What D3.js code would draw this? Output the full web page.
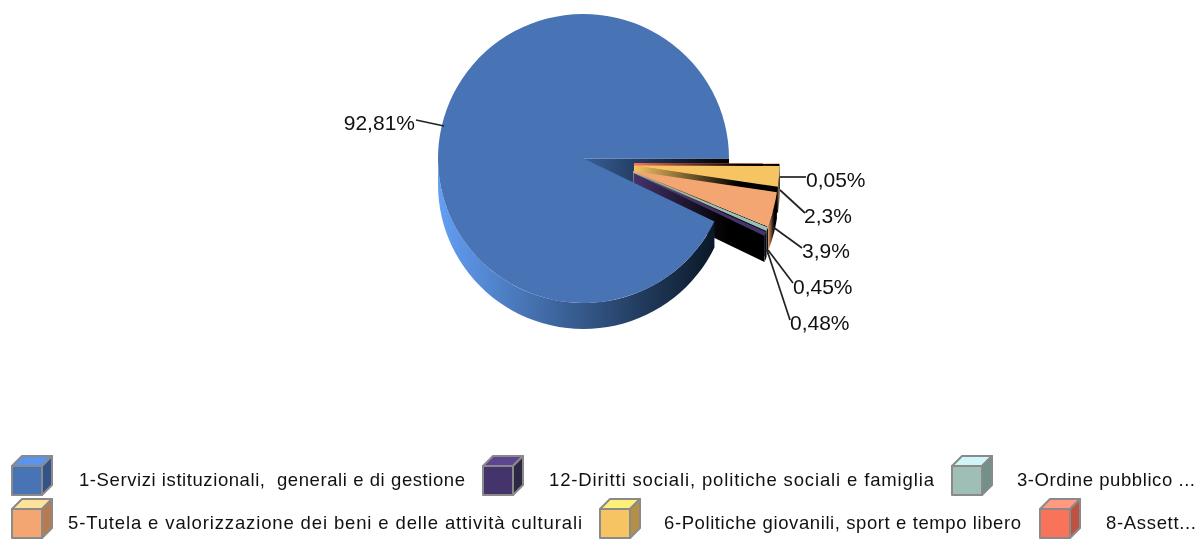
<!DOCTYPE html>
<html><head><meta charset="utf-8">
<script src="https://cdn.jsdelivr.net/npm/d3@7/dist/d3.min.js"></script>
<style>html,body{margin:0;padding:0;background:#fff}svg{display:block;filter:blur(0.7px)}</style>
</head><body><div id="c"></div>
<script>
// DATA (legend order; the pie runs counter-clockwise from 3 o'clock)
const categories = ["1-Servizi istituzionali,  generali e di gestione","12-Diritti sociali, politiche sociali e famiglia","3-Ordine pubblico ...","5-Tutela e valorizzazione dei beni e delle attività culturali","6-Politiche giovanili, sport e tempo libero","8-Assett..."];
const values = [92.81,0.48,0.45,3.9,2.3,0.05];
const valueLabels = ["92,81%","0,48%","0,45%","3,9%","2,3%","0,05%"];
// STYLE
const colors = ["#4874b5","#45336b","#9fbfb6","#f4a672","#f6c463","#f9735b"];
const topColors = ["#5b94ec","#5d4691","#d0f5f6","#fde29a","#fdf078","#ff9a80"];
const sideColors = ["#345388","#2f2746","#738f89","#b87b50","#b38f48","#bd5441"];
// LAYOUT
const W=1204,H=539,cx=583.5,cy=158.5,rx=145.5,ry=144.5,depth=26;
const explode=[[0,0],[50,14.5],[50,13.5],[49.5,12.5],[50.5,7],[50.5,4.5]];
const labelPos=[[415,122,"end"],[790,322,"start"],[793,286,"start"],[802,250,"start"],[804,215,"start"],[806,179,"start"]];
const leaderStart=[[444,126],[767,250],[768,250],[773,227],[780,190],[780,177]];
const leaderEnd=[[416,120],[790,320],[793,283],[802,248],[805,213],[806,177]];
const legendRows=[[0,1,2],[3,4,5]];
const legendY=[456,499];
const swatchX=[[12,483,952],[12,600,1040]];
const textX=[[79,549,1017],[68,664,1106]];
const textW=[[386,385,178],[514,357,90]];

const svg=d3.select("#c").append("svg").attr("width",W).attr("height",H).attr("viewBox",[0,0,W,H]);
const defs=svg.append("defs");
colors.forEach((c,i)=>{
  const g=defs.append("linearGradient").attr("id","w"+i);
  g.append("stop").attr("offset",0).attr("stop-color",c);
  g.append("stop").attr("offset",0.72).attr("stop-color","#000");
  g.append("stop").attr("offset",1).attr("stop-color","#000");
});
const gw=defs.append("linearGradient").attr("id","blueWall");
gw.append("stop").attr("offset",0).attr("stop-color","#639ff5");
gw.append("stop").attr("offset",1).attr("stop-color","#0a1828");
const gc=defs.append("linearGradient").attr("id","blueCut");
gc.append("stop").attr("offset",0).attr("stop-color","#38609a");
gc.append("stop").attr("offset",1).attr("stop-color","#000");

const slices=d3.pie().sort(null).startAngle(Math.PI/2).endAngle(Math.PI/2-2*Math.PI)(values);
const arcGen=d3.arc().innerRadius(0).outerRadius(1);
const line=d3.line();
const pt=(a,ox,oy,dz=0)=>[cx+ox+rx*Math.sin(a),cy+oy+dz-ry*Math.cos(a)];
function arcWall(a0,a1,ox,oy){
  const n=48,ts=d3.range(n+1).map(k=>a0+(a1-a0)*k/n);
  return line(ts.map(t=>pt(t,ox,oy)).concat(ts.slice().reverse().map(t=>pt(t,ox,oy,depth))))+"Z";
}
function drawTop(i){
  const s=slices[i],[ox,oy]=explode[i];
  svg.append("path").attr("d",arcGen({startAngle:s.startAngle,endAngle:s.endAngle}))
    .attr("transform",`translate(${cx+ox},${cy+oy}) scale(${rx},${ry})`).attr("fill",colors[i]);
}
// cut face of the main slice seen through the gap
const p0=slices[0];
svg.append("path").attr("d",line([[cx,cy],pt(p0.startAngle,0,0),pt(p0.startAngle,0,0,depth),[cx,cy+depth]])+"Z").attr("fill","url(#blueCut)");
// exploded slices' walls, back to front
const order=[5,4,3,2,1];
order.forEach(i=>{
  const s=slices[i],[ox,oy]=explode[i];
  const o=pt(s.startAngle,ox,oy),ap=[cx+ox,cy+oy];
  svg.append("path").attr("d",line([ap,o,[o[0],o[1]+depth],[ap[0],ap[1]+depth]])+"Z").attr("fill",`url(#w${i})`);
  svg.append("path").attr("d",arcWall(s.endAngle,s.startAngle,ox,oy)).attr("fill",`url(#w${i})`);
});
// main slice wall and top
svg.append("path").attr("d",arcWall(p0.endAngle+2*Math.PI,3*Math.PI/2,0,0)).attr("fill","url(#blueWall)");
drawTop(0);
// exploded tops
order.forEach(drawTop);
// leaders
values.forEach((v,i)=>{
  svg.append("path").attr("d",line([leaderStart[i],leaderEnd[i]])).attr("fill","none").attr("stroke","#222").attr("stroke-width",1.7);
});
// labels
valueLabels.forEach((t,i)=>{
  svg.append("text").attr("x",labelPos[i][0]).attr("y",labelPos[i][1]).attr("dy","0.36em").attr("text-anchor",labelPos[i][2])
   .attr("font-family","'Liberation Sans',Arial,sans-serif").attr("font-size",21).attr("fill","#111").text(t);
});
// legend
const sw=30,sd=10;
legendRows.forEach((row,r)=>row.forEach((i,k)=>{
  const x=swatchX[r][k],y=legendY[r],g=svg.append("g").attr("stroke","#8a8a8a").attr("stroke-width",2).attr("stroke-linejoin","round");
  g.append("path").attr("d",line([[x,y+sd],[x+sd,y],[x+sd+sw,y],[x+sw,y+sd]])+"Z").attr("fill",topColors[i]);
  g.append("path").attr("d",line([[x+sw,y+sd],[x+sw+sd,y],[x+sw+sd,y+sw-1],[x+sw,y+sd+sw-1]])+"Z").attr("fill",sideColors[i]);
  g.append("rect").attr("x",x).attr("y",y+sd).attr("width",sw).attr("height",sw-1).attr("fill",colors[i]);
  svg.append("text").attr("x",textX[r][k]).attr("y",y+23).attr("dy","0.36em")
   .attr("textLength",textW[r][k]).attr("lengthAdjust","spacing")
   .attr("font-family","'Liberation Sans',Arial,sans-serif").attr("font-size",18.5).attr("fill","#111")
   .style("white-space","pre").text(categories[i]);
}));
</script></body></html>
